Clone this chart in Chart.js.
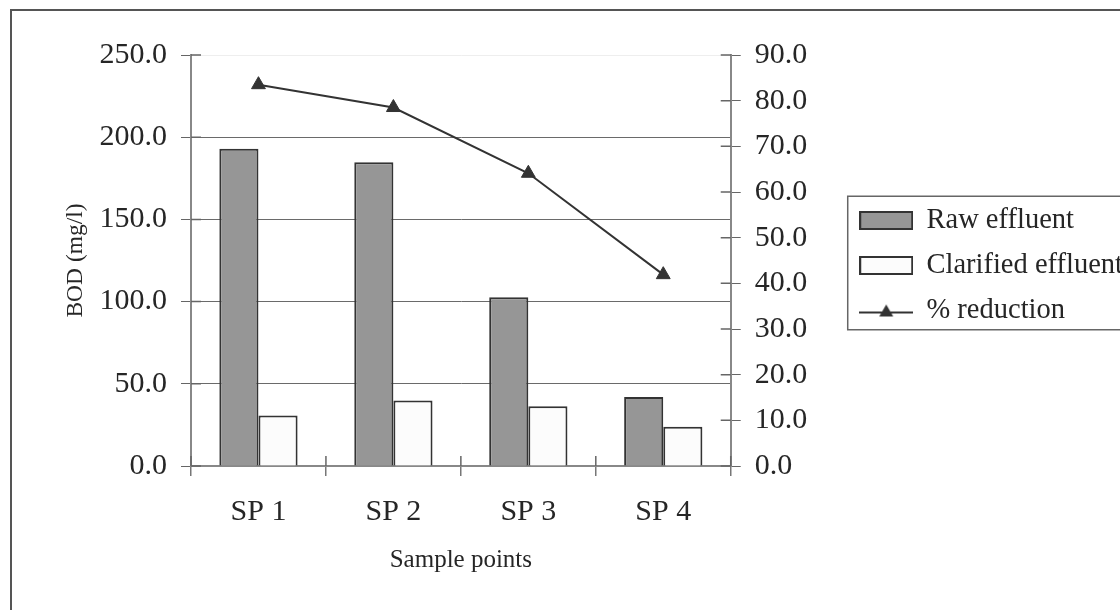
<!DOCTYPE html>
<html>
<head>
<meta charset="utf-8">
<script src="https://cdn.jsdelivr.net/npm/chart.js@4"></script>
<style>
  html, body { margin: 0; padding: 0; background: #fff; }
  #wrap { width: 1120px; height: 610px; }
</style>
</head>
<body>
<div id="wrap"><canvas id="myChart" width="1120" height="610"></canvas></div>
<script>
const samplePoints = ['SP 1', 'SP 2', 'SP 3', 'SP 4'];
const rawEffluent = [192.9, 184.8, 102.6, 42.0];
const clarifiedEffluent = [30.7, 39.8, 36.4, 23.8];
const pctReduction = [83.5, 78.5, 64.1, 41.9];

const serif = "'Liberation Serif', 'Times New Roman', serif";
const ink = '#262626';

// legend glyphs (bar swatches and line with triangle)
const swatch = (fill) => {
	const c = document.createElement('canvas');
	c.width = 54;
	c.height = 19;
	const g = c.getContext('2d');
	g.fillStyle = fill;
	g.fillRect(1, 1, 52, 17);
	g.strokeStyle = '#333';
	g.lineWidth = 2;
	g.strokeRect(1, 1, 52, 17);
	return c;
};
const lineGlyph = () => {
	const c = document.createElement('canvas');
	c.width = 54;
	c.height = 18;
	const g = c.getContext('2d');
	g.strokeStyle = '#333';
	g.lineWidth = 2;
	g.beginPath();
	g.moveTo(0, 11);
	g.lineTo(54, 11);
	g.stroke();
	g.fillStyle = '#333';
	g.beginPath();
	g.moveTo(27, 3);
	g.lineTo(34, 15);
	g.lineTo(20, 15);
	g.closePath();
	g.fill();
	return c;
};
const legendIcons = [swatch('#969696'), swatch('#fcfcfc'), lineGlyph()];

const decor = {
	id: 'decor',
	beforeDraw(chart) {
		const ctx = chart.ctx;
		ctx.save();
		ctx.strokeStyle = '#555';
		ctx.lineWidth = 2;
		ctx.strokeRect(11, 10, chart.width + 40, chart.height + 40);
		ctx.restore();
	},
	afterDraw(chart) {
		const { ctx, scales, legend } = chart;
		const { x, y, y1 } = scales;
		ctx.save();
		ctx.strokeStyle = '#666';
		ctx.lineWidth = 1.5;
		ctx.beginPath();
		y.ticks.forEach((t) => {
			const p = y.getPixelForValue(t.value);
			ctx.moveTo(y.right, p);
			ctx.lineTo(y.right + 10, p);
		});
		y1.ticks.forEach((t) => {
			const p = y1.getPixelForValue(t.value);
			ctx.moveTo(y1.left - 10, p);
			ctx.lineTo(y1.left, p);
		});
		const n = samplePoints.length;
		const step = (x.right - x.left) / n;
		for (let i = 0; i <= n; i++) {
			const px = x.left + i * step;
			ctx.moveTo(px, x.top - 10);
			ctx.lineTo(px, x.top);
		}
		ctx.stroke();
		// legend frame
		const hb = legend.legendHitBoxes;
		if (hb && hb.length) {
			const top = hb[0].top - 10;
			const last = hb[hb.length - 1];
			const bottom = last.top + last.height + 5;
			ctx.strokeStyle = '#666';
			ctx.lineWidth = 1.5;
			ctx.strokeRect(legend.left + 4, top, chart.width, bottom - top);
		}
		ctx.restore();
	},
};

const config = {
	data: {
		labels: samplePoints,
		datasets: [
			{
				type: 'bar',
				label: 'Raw effluent',
				data: rawEffluent,
				yAxisID: 'y',
				backgroundColor: '#969696',
				borderColor: '#333',
				borderWidth: 2,
				borderSkipped: 'bottom',
				order: 1,
			},
			{
				type: 'bar',
				label: 'Clarified effluent',
				data: clarifiedEffluent,
				yAxisID: 'y',
				backgroundColor: '#fcfcfc',
				borderColor: '#333',
				borderWidth: 2,
				borderSkipped: 'bottom',
				order: 2,
			},
			{
				type: 'line',
				label: '% reduction',
				data: pctReduction,
				yAxisID: 'y1',
				borderColor: '#333',
				borderWidth: 2,
				tension: 0,
				pointStyle: 'triangle',
				pointRadius: 8,
				pointBackgroundColor: '#333',
				pointBorderColor: '#333',
				pointBorderWidth: 1,
				order: 0,
			},
		],
	},
	options: {
		responsive: false,
		animation: false,
		layout: { padding: { left: 20, top: 55, right: -13, bottom: 20 } },
		datasets: {
			bar: { barPercentage: 1.0, categoryPercentage: 0.58 },
		},
		scales: {
			x: {
				grid: {
					offset: true,
					drawOnChartArea: false,
					tickLength: 10,
					tickColor: '#777',
					lineWidth: 1.5,
				},
				border: { color: '#888', width: 2 },
				ticks: { color: ink, font: { family: serif, size: 30 }, padding: 18 },
				title: {
					display: true,
					text: 'Sample points',
					color: ink,
					font: { family: serif, size: 25 },
					padding: { top: 0, bottom: 15 },
				},
				afterFit: (s) => { s.height = 124; },
			},
			y: {
				position: 'left',
				min: 0,
				max: 250,
				grid: {
					color: (c) => (c.tick && c.tick.value === 250 ? '#eeeeee' : '#6a6a6a'),
					lineWidth: 1,
					tickLength: 10,
					tickColor: '#666',
				},
				border: { color: '#888', width: 2 },
				ticks: {
					stepSize: 50,
					color: ink,
					font: { family: serif, size: 30 },
					padding: 14,
					callback: (v) => Number(v).toFixed(1),
				},
				title: {
					display: true,
					text: 'BOD (mg/l)',
					color: ink,
					font: { family: serif, size: 23.5 },
					padding: { top: 42, bottom: 0 },
				},
				afterFit: (s) => { s.width = 171; },
			},
			y1: {
				position: 'right',
				min: 0,
				max: 90,
				grid: {
					drawOnChartArea: false,
					tickLength: 10,
					tickColor: '#666',
				},
				border: { color: '#888', width: 2 },
				ticks: {
					stepSize: 10,
					color: ink,
					font: { family: serif, size: 30 },
					padding: 14,
					callback: (v) => Number(v).toFixed(1),
				},
				afterFit: (s) => { s.width = 113; },
			},
		},
		plugins: {
			tooltip: { enabled: false },
			legend: {
				position: 'right',
				fullSize: false,
				align: 'center',
				maxWidth: 400,
				title: { display: true, text: '', padding: 0, font: { size: 10, lineHeight: 1 } },
				labels: {
					usePointStyle: true,
					pointStyleWidth: 52,
					boxHeight: 17,
					padding: 16.5,
					color: ink,
					font: { family: serif, size: 28.5 },
					sort: (a, b) => a.datasetIndex - b.datasetIndex,
					generateLabels: (chart) => {
						const items = Chart.defaults.plugins.legend.labels.generateLabels(chart);
						items.forEach((it) => { it.pointStyle = legendIcons[it.datasetIndex]; });
						return items;
					},
				},
			},
		},
	},
	plugins: [decor],
};

const myChart = new Chart(document.getElementById('myChart'), config);
</script>
</body>
</html>
